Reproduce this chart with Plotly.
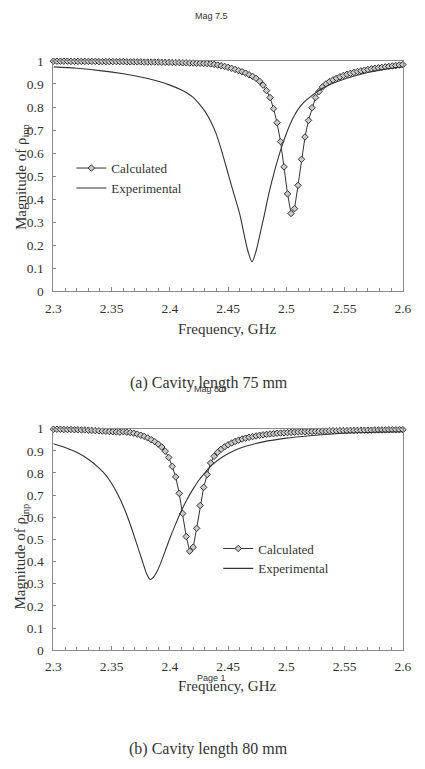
import plotly.graph_objects as go

# ---------------- data ----------------
# frequency sweep of the calculated curves (GHz)
freq_calc = [round(2.3 + 0.003 * k, 3) for k in range(101)]

calc_75 = [
    0.999, 0.999, 0.999, 0.999, 0.999, 0.998, 0.998, 0.998, 0.998, 0.998,
    0.998, 0.998, 0.998, 0.997, 0.997, 0.997, 0.997, 0.997, 0.997, 0.997,
    0.997, 0.996, 0.996, 0.996, 0.996, 0.996, 0.995, 0.995, 0.995, 0.995,
    0.995, 0.994, 0.994, 0.994, 0.993, 0.993, 0.993, 0.992, 0.992, 0.991,
    0.991, 0.990, 0.990, 0.989, 0.989, 0.987, 0.985, 0.982, 0.979, 0.976,
    0.972, 0.968, 0.963, 0.958, 0.953, 0.947, 0.940, 0.933, 0.924, 0.912,
    0.895, 0.871, 0.841, 0.793, 0.732, 0.650, 0.540, 0.423, 0.338, 0.359,
    0.460, 0.573, 0.670, 0.742, 0.797, 0.841, 0.867, 0.887, 0.900, 0.910,
    0.918, 0.925, 0.931, 0.937, 0.942, 0.946, 0.950, 0.954, 0.957, 0.960,
    0.963, 0.966, 0.968, 0.970, 0.972, 0.974, 0.976, 0.978, 0.980, 0.982,
    0.984,
]

calc_80 = [
    0.997, 0.997, 0.997, 0.996, 0.996, 0.996, 0.995, 0.995, 0.994, 0.994,
    0.993, 0.992, 0.991, 0.990, 0.989, 0.988, 0.987, 0.986, 0.985, 0.984,
    0.986, 0.984, 0.982, 0.979, 0.975, 0.970, 0.965, 0.958, 0.950, 0.941,
    0.930, 0.917, 0.898, 0.870, 0.830, 0.782, 0.708, 0.617, 0.513, 0.447,
    0.465, 0.550, 0.653, 0.735, 0.793, 0.845, 0.875, 0.893, 0.907, 0.918,
    0.927, 0.935, 0.942, 0.948, 0.953, 0.957, 0.961, 0.964, 0.967, 0.970,
    0.972, 0.974, 0.976, 0.977, 0.979, 0.980, 0.981, 0.982, 0.983, 0.984,
    0.985, 0.986, 0.986, 0.987, 0.987, 0.988, 0.988, 0.989, 0.989, 0.990,
    0.990, 0.990, 0.991, 0.991, 0.991, 0.992, 0.992, 0.992, 0.993, 0.993,
    0.993, 0.993, 0.994, 0.994, 0.994, 0.994, 0.995, 0.995, 0.995, 0.995,
    0.995,
]

freq_exp_75 = [2.300, 2.320, 2.340, 2.360, 2.380, 2.390, 2.400, 2.410, 2.415,
               2.420, 2.425, 2.430, 2.435, 2.440, 2.445, 2.450, 2.455, 2.460,
               2.464, 2.467, 2.4705, 2.474, 2.477, 2.481, 2.485, 2.490, 2.495,
               2.500, 2.505, 2.510, 2.515, 2.520, 2.530, 2.540, 2.550, 2.560,
               2.570, 2.580, 2.590, 2.600]
exp_75 = [0.974, 0.968, 0.958, 0.944, 0.925, 0.912, 0.895, 0.874, 0.860,
          0.842, 0.815, 0.782, 0.738, 0.680, 0.600, 0.510, 0.422, 0.335,
          0.240, 0.175, 0.128, 0.175, 0.240, 0.330, 0.425, 0.525, 0.612,
          0.685, 0.745, 0.790, 0.820, 0.842, 0.878, 0.903, 0.922, 0.937,
          0.950, 0.960, 0.968, 0.974]

freq_exp_80 = [2.300, 2.310, 2.320, 2.330, 2.340, 2.345, 2.350, 2.355, 2.360,
               2.365, 2.370, 2.374, 2.377, 2.380, 2.383, 2.386, 2.389, 2.392,
               2.396, 2.400, 2.405, 2.410, 2.415, 2.420, 2.425, 2.430, 2.436,
               2.445, 2.455, 2.465, 2.480, 2.500, 2.520, 2.540, 2.560, 2.580,
               2.600]
exp_80 = [0.932, 0.915, 0.893, 0.862, 0.818, 0.790, 0.752, 0.706, 0.650,
          0.582, 0.505, 0.440, 0.392, 0.345, 0.319, 0.330, 0.356, 0.392,
          0.448, 0.505, 0.570, 0.630, 0.683, 0.728, 0.768, 0.800, 0.835,
          0.872, 0.900, 0.920, 0.940, 0.957, 0.968, 0.976, 0.981, 0.984,
          0.986]

x_ticks = [2.3, 2.35, 2.4, 2.45, 2.5, 2.55, 2.6]
x_tick_text = ["2.3", "2.35", "2.4", "2.45", "2.5", "2.55", "2.6"]
y_ticks = [0, 0.1, 0.2, 0.3, 0.4, 0.5, 0.6, 0.7, 0.8, 0.9, 1]
y_tick_text = ["0", "0.1", "0.2", "0.3", "0.4", "0.5", "0.6", "0.7", "0.8", "0.9", "1"]

SERIF = "Liberation Serif"
SANS = "Liberation Sans"
INK = "#333333"
W, H = 425, 769

fig = go.Figure()

marker_style = dict(symbol="diamond", size=5, color="#c8c8c8",
                    line=dict(color="#333333", width=1))

# top chart
fig.add_trace(go.Scatter(x=freq_calc, y=calc_75, mode="lines+markers", name="Calculated",
                         line=dict(color=INK, width=1), marker=marker_style,
                         xaxis="x", yaxis="y", legend="legend", cliponaxis=False))
fig.add_trace(go.Scatter(x=freq_exp_75, y=exp_75, mode="lines", name="Experimental",
                         line=dict(color=INK, width=1.1, shape="spline", smoothing=0.8),
                         xaxis="x", yaxis="y", legend="legend", cliponaxis=False))
# bottom chart
fig.add_trace(go.Scatter(x=freq_calc, y=calc_80, mode="lines+markers", name="Calculated",
                         line=dict(color=INK, width=1), marker=marker_style,
                         xaxis="x2", yaxis="y2", legend="legend2", cliponaxis=False))
fig.add_trace(go.Scatter(x=freq_exp_80, y=exp_80, mode="lines", name="Experimental",
                         line=dict(color=INK, width=1.1, shape="spline", smoothing=0.8),
                         xaxis="x2", yaxis="y2", legend="legend2", cliponaxis=False))

x_dom = [47.3 / W, 411.3 / W]
y1_dom = [1 - 290 / H, 1 - 55 / H]
y2_dom = [1 - 656 / H, 1 - 430 / H]

def xaxis(anchor):
    return dict(domain=x_dom, range=[2.3, 2.6], anchor=anchor,
                tickmode="array", tickvals=x_ticks, ticktext=x_tick_text,
                ticks="inside", ticklen=4, tickcolor="#888", showgrid=False,
                zeroline=False, showline=True, linecolor="#8a8a8a", linewidth=1,
                mirror=True, tickfont=dict(family=SERIF, size=13.5, color=INK),
                ticklabelstandoff=4,
                minor=dict(dtick=0.01, tick0=2.3, ticks="inside", ticklen=3,
                           tickcolor="#888", showgrid=False))

def yaxis(anchor, dom):
    return dict(domain=dom, range=[0, 1], anchor=anchor,
                tickmode="array", tickvals=y_ticks, ticktext=y_tick_text,
                ticks="inside", ticklen=3, tickcolor="#888", showgrid=False,
                zeroline=False, showline=True, linecolor="#8a8a8a", linewidth=1,
                mirror=True, tickfont=dict(family=SERIF, size=13.5, color=INK),
                ticklabelstandoff=6)

legend_common = dict(font=dict(family=SERIF, size=13, color=INK), bgcolor="rgba(0,0,0,0)",
                     borderwidth=0, xanchor="left", yanchor="top", tracegroupgap=0)

fig.update_layout(
    width=W, height=H, margin=dict(l=0, r=0, t=0, b=0),
    paper_bgcolor="white", plot_bgcolor="white",
    xaxis=xaxis("y"), yaxis=yaxis("x", y1_dom),
    xaxis2=xaxis("y2"), yaxis2=yaxis("x2", y2_dom),
    legend=dict(x=66 / W, y=1 - 149 / H, **legend_common),
    legend2=dict(x=219 / W, y=1 - 537 / H, **legend_common),
    showlegend=True,
)

def ann(text, x, y, size, family=SERIF, angle=0):
    fig.add_annotation(text=text, x=x / W, y=1 - y / H, xref="paper", yref="paper",
                       showarrow=False, textangle=angle, xanchor="center", yanchor="middle",
                       font=dict(family=family, size=size, color=INK))

ann("Mag 7.5", 212, 9, 9, SANS)
ann("Magnitude of ρ<sub>inp</sub>", 14, 173, 15, SERIF, -90)
ann("Frequency, GHz", 229, 328, 15)
ann("(a) Cavity length 75 mm", 209, 383, 16)
ann("Mag 8.0", 211, 390, 9, SANS)
ann("Magnitude of ρ<sub>inp</sub>", 14, 560, 15, SERIF, -90)
ann("Page 1", 212, 684, 9, SANS)
ann("Frequency, GHz", 229, 692, 15)
ann("(b) Cavity length 80 mm", 209, 757, 16)

fig.write_html("out.html")
